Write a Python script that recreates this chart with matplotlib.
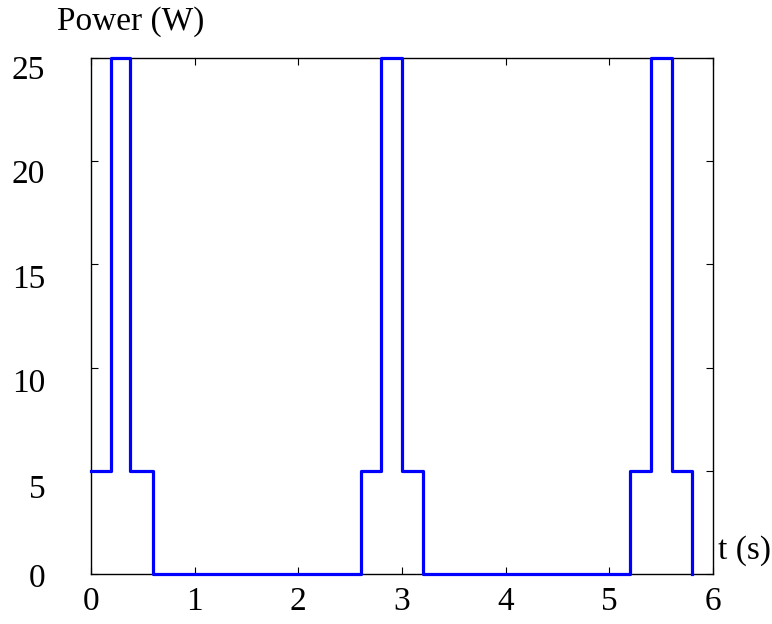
import matplotlib
matplotlib.use('Agg')
import matplotlib.pyplot as plt
import matplotlib.transforms as mtransforms
from matplotlib.ticker import MultipleLocator

plt.rcParams.update({'font.family': 'Liberation Serif', 'font.size': 24})

# switching instants (s) and power level held from each instant (W)
t_steps = [0.0, 0.19, 0.38, 0.6, 2.6, 2.8, 3.0, 3.2, 5.2, 5.4, 5.6, 5.8]
p_steps = [5, 25, 5, 0, 5, 25, 5, 0, 5, 25, 5, 0]
y_ticks = [0, 5, 10, 15, 20, 25]

fig = plt.figure(figsize=(7.72, 6.24), dpi=100)
ax = fig.add_axes([91 / 772, 50 / 624, 622 / 772, 516 / 624])

ax.step(t_steps, p_steps, where='post', color='#0000ff', linewidth=2.3,
        clip_on=False, zorder=3)

ax.set_xlim(0, 6)
ax.set_ylim(0, 25)
ax.xaxis.set_major_locator(MultipleLocator(1))
ax.set_yticks(y_ticks)
ax.tick_params(direction='in', length=5, width=0.8, top=True, right=True)
ax.tick_params(axis='x', pad=9)
ax.tick_params(axis='y', pad=33)
for s in ax.spines.values():
    s.set_linewidth(1.0)

# y labels hang a bit below their ticks (less so near the origin)
drops = {0: 1, 5: 15, 10: 13, 15: 12, 20: 10, 25: 9}
for v, lbl in zip(y_ticks, ax.get_yticklabels()):
    shift = mtransforms.ScaledTranslation(0, -drops[v] / 100, fig.dpi_scale_trans)
    lbl.set_transform(lbl.get_transform() + shift)

fig.text(57 / 772, 1 - 22 / 624, 'Power (W)', ha='left', va='center')
ax.text(1.008, 0.045, 't (s)', transform=ax.transAxes, ha='left', va='center')

fig.savefig('out.png', dpi=100)
